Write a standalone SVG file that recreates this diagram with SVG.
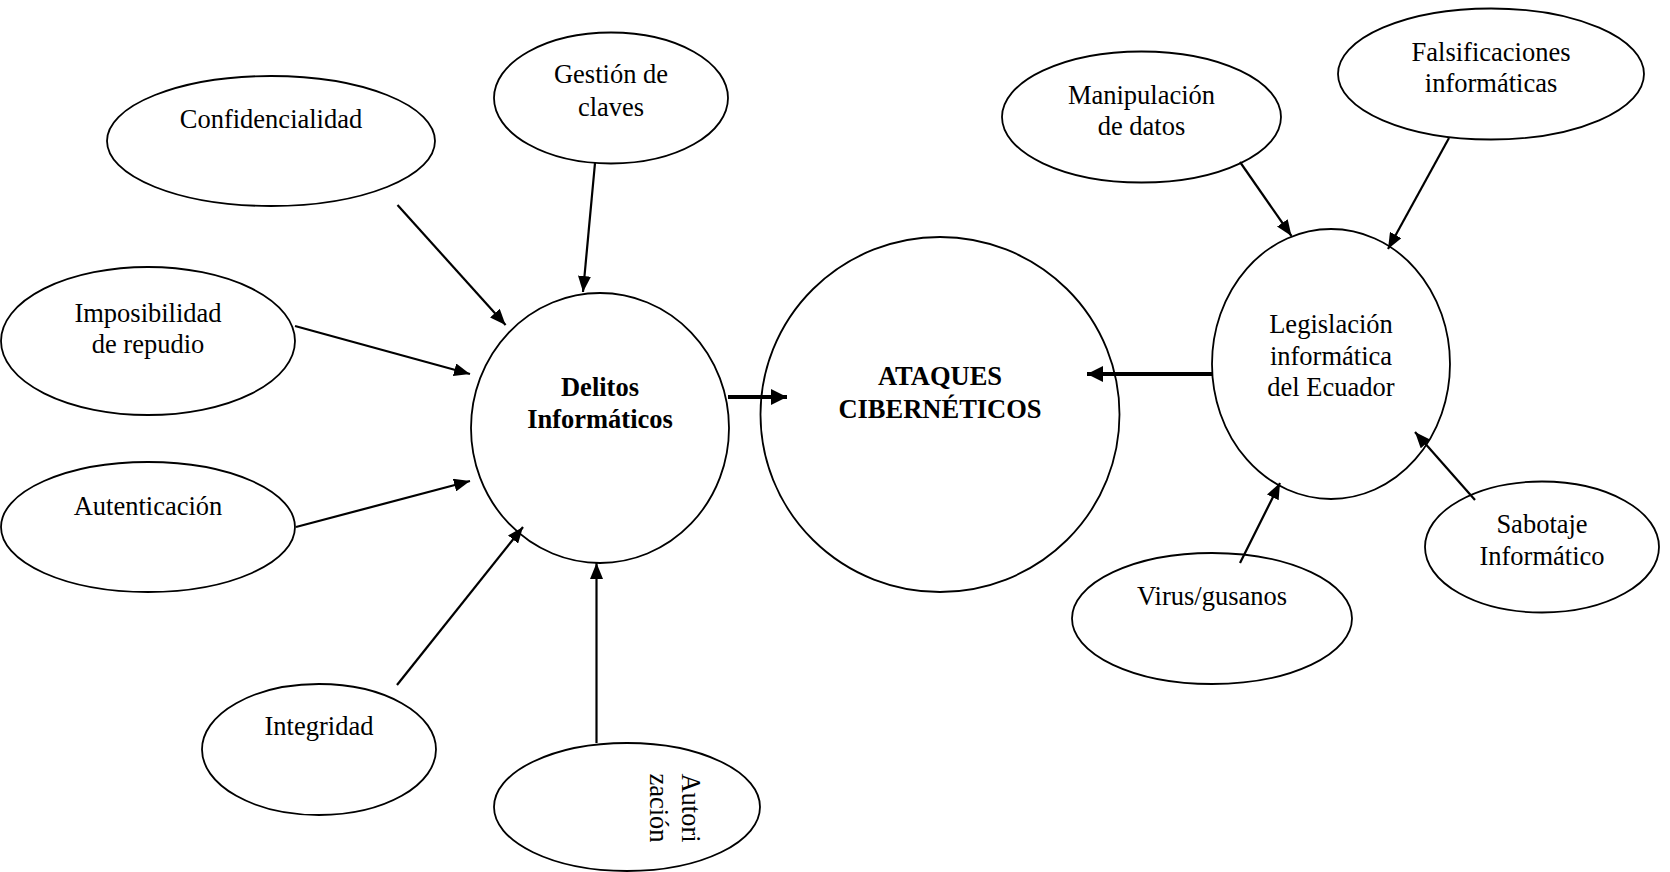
<svg xmlns="http://www.w3.org/2000/svg" width="1670" height="872" viewBox="0 0 1670 872">
  <defs>
    <style>
      .node ellipse { fill: #ffffff; stroke: #000000; stroke-width: 1.8; }
      .node text { font-family: "Liberation Serif", "Times New Roman", serif; font-size: 26.5px; fill: #000000; text-anchor: middle; }
      .node text.b { font-weight: bold; }
      .conn line { stroke: #000000; stroke-width: 2.2; fill: none; }
      .conn line.thick { stroke-width: 4.2; }
    </style>
    <marker id="ah" markerUnits="userSpaceOnUse" markerWidth="17" markerHeight="13" refX="16" refY="6.5" orient="auto">
      <path d="M0,0 L16,6.5 L0,13 z" fill="#000000"/>
    </marker>
    <marker id="ahb" markerUnits="userSpaceOnUse" markerWidth="17" markerHeight="16" refX="16" refY="8" orient="auto">
      <path d="M0,0 L16,8 L0,16 z" fill="#000000"/>
    </marker>
  </defs>
  <rect x="0" y="0" width="1670" height="872" fill="#ffffff"/>

  <g id="confidencialidad" class="node">
    <ellipse cx="271" cy="141" rx="164" ry="65"/>
    <text x="271" y="128">Confidencialidad</text>
  </g>
  <g id="gestion-claves" class="node">
    <ellipse cx="611" cy="98" rx="117" ry="65.5"/>
    <text x="611" y="83">Gestión de</text>
    <text x="611" y="116">claves</text>
  </g>
  <g id="imposibilidad-repudio" class="node">
    <ellipse cx="148" cy="341" rx="147" ry="74"/>
    <text x="148" y="322">Imposibilidad</text>
    <text x="148" y="353">de repudio</text>
  </g>
  <g id="autenticacion" class="node">
    <ellipse cx="148" cy="527" rx="147" ry="65"/>
    <text x="148" y="515">Autenticación</text>
  </g>
  <g id="integridad" class="node">
    <ellipse cx="319" cy="749.5" rx="117" ry="65.5"/>
    <text x="319" y="735">Integridad</text>
  </g>
  <g id="autorizacion" class="node">
    <ellipse cx="627" cy="807" rx="133" ry="64"/>
    <text transform="translate(682,808) rotate(90)" x="0" y="0">Autori</text>
    <text transform="translate(650,808) rotate(90)" x="0" y="0">zación</text>
  </g>
  <g id="delitos-informaticos" class="node">
    <ellipse cx="600" cy="428" rx="129" ry="135"/>
    <text class="b" x="600" y="396">Delitos</text>
    <text class="b" x="600" y="428">Informáticos</text>
  </g>
  <g id="ataques-ciberneticos" class="node">
    <ellipse cx="940" cy="414.5" rx="179.5" ry="177.5"/>
    <text class="b" x="940" y="385">ATAQUES</text>
    <text class="b" x="940" y="418">CIBERNÉTICOS</text>
  </g>
  <g id="legislacion-ecuador" class="node">
    <ellipse cx="1331" cy="364" rx="119" ry="135"/>
    <text x="1331" y="333">Legislación</text>
    <text x="1331" y="365">informática</text>
    <text x="1331" y="396">del Ecuador</text>
  </g>
  <g id="manipulacion-datos" class="node">
    <ellipse cx="1141.5" cy="117" rx="139.5" ry="65.5"/>
    <text x="1141.5" y="104">Manipulación</text>
    <text x="1141.5" y="135">de datos</text>
  </g>
  <g id="falsificaciones" class="node">
    <ellipse cx="1491" cy="74" rx="153" ry="65.5"/>
    <text x="1491" y="61">Falsificaciones</text>
    <text x="1491" y="92">informáticas</text>
  </g>
  <g id="virus-gusanos" class="node">
    <ellipse cx="1212" cy="618.5" rx="140" ry="65.5"/>
    <text x="1212" y="605">Virus/gusanos</text>
  </g>
  <g id="sabotaje" class="node">
    <ellipse cx="1542" cy="547" rx="117" ry="65.5"/>
    <text x="1542" y="533">Sabotaje</text>
    <text x="1542" y="565">Informático</text>
  </g>

  <g id="connectors" class="conn">
    <line x1="397.5" y1="205" x2="505.6" y2="325" marker-end="url(#ah)"/>
    <line x1="595" y1="163" x2="583" y2="292" marker-end="url(#ah)"/>
    <line x1="295" y1="326" x2="470" y2="374" marker-end="url(#ah)"/>
    <line x1="296" y1="527" x2="470" y2="481" marker-end="url(#ah)"/>
    <line x1="397" y1="685" x2="523" y2="527" marker-end="url(#ah)"/>
    <line x1="596.5" y1="743" x2="596.5" y2="563" marker-end="url(#ah)"/>
    <line class="thick" x1="728" y1="397" x2="787" y2="397" marker-end="url(#ahb)"/>
    <line class="thick" x1="1213" y1="374" x2="1087" y2="374" marker-end="url(#ahb)"/>
    <line x1="1240" y1="162" x2="1291.5" y2="236" marker-end="url(#ah)"/>
    <line x1="1449" y1="138" x2="1388" y2="249" marker-end="url(#ah)"/>
    <line x1="1240" y1="563" x2="1280" y2="483" marker-end="url(#ah)"/>
    <line x1="1475" y1="500" x2="1415" y2="432" marker-end="url(#ah)"/>
  </g>
</svg>
